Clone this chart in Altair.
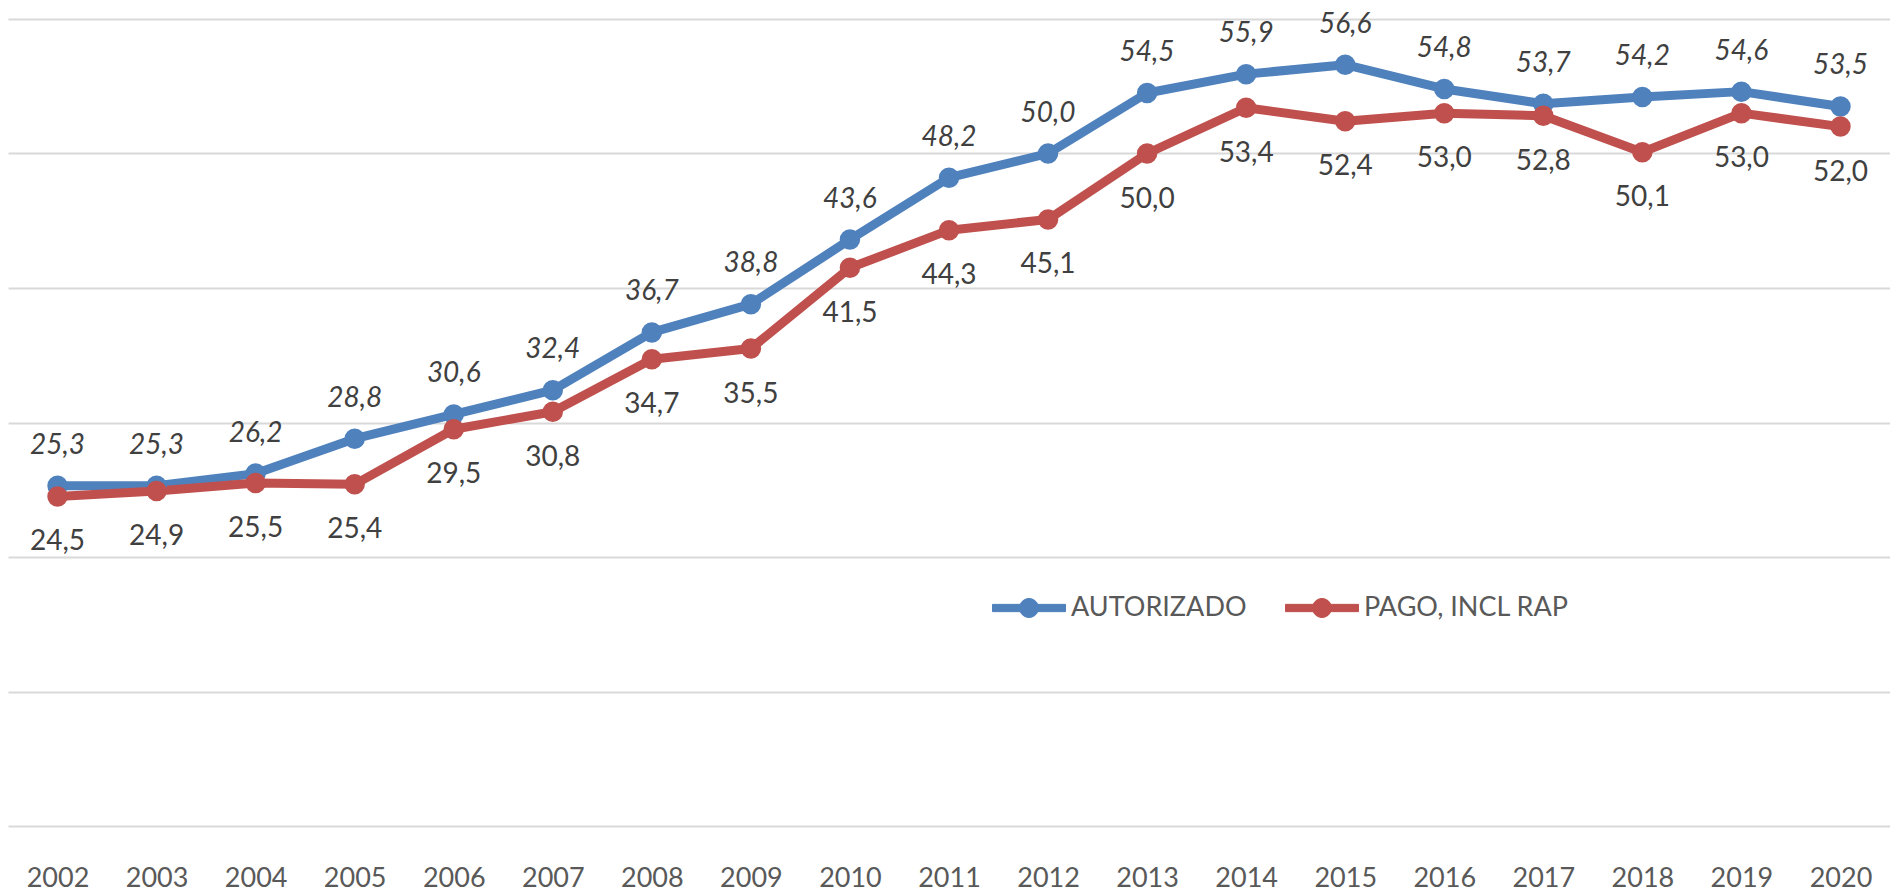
import math
import altair as alt
import pandas as pd

years = [str(y) for y in range(2002, 2021)]
autorizado = [25.3, 25.3, 26.2, 28.8, 30.6, 32.4, 36.7, 38.8, 43.6, 48.2,
              50.0, 54.5, 55.9, 56.6, 54.8, 53.7, 54.2, 54.6, 53.5]
pago = [24.5, 24.9, 25.5, 25.4, 29.5, 30.8, 34.7, 35.5, 41.5, 44.3,
        45.1, 50.0, 53.4, 52.4, 53.0, 52.8, 50.1, 53.0, 52.0]
series_names = ["AUTORIZADO", "PAGO, INCL RAP"]
colors = ["#4F81BD", "#C0504D"]
y_ticks = [0, 10, 20, 30, 40, 50, 60]

rows = []
for name, vals in zip(series_names, [autorizado, pago]):
    for y, v in zip(years, vals):
        rows.append({"ano": y, "serie": name, "valor": v})
df = pd.DataFrame(rows)

FONT = "Lato"

# legend symbol: a thick line segment with a dot in the middle (unit box -1..1)
_r = 0.26
_circle = " ".join(
    ("M" if i == 0 else "L") + f"{_r*math.cos(2*math.pi*i/24):.4f},{_r*math.sin(2*math.pi*i/24):.4f}"
    for i in range(24)
) + " Z"
legend_path = "M-1,-0.1 L1,-0.1 L1,0.1 L-1,0.1 Z " + _circle

x = alt.X("ano:N", title=None, sort=years,
          axis=alt.Axis(labelAngle=0, labelFontSize=27, labelColor="#595959",
                        labelFont=FONT, ticks=False, domain=False, grid=False,
                        labelPadding=39))
y = alt.Y("valor:Q", title=None,
          scale=alt.Scale(domain=[0, 60], nice=False, zero=True),
          axis=alt.Axis(values=y_ticks, labels=False, ticks=False, domain=False,
                        grid=True, gridColor="#d9d9d9", gridWidth=2))

base = alt.Chart(df).transform_calculate(
    label="replace(format(datum.valor, '.1f'), '.', ',')",
)

lines = base.mark_line(strokeWidth=9, strokeCap="round", strokeJoin="round").encode(
    x=x, y=y,
    color=alt.Color("serie:N", scale=alt.Scale(domain=series_names, range=colors),
                    legend=alt.Legend(title=None, orient="none", direction="horizontal",
                                      legendX=984, legendY=552,
                                      symbolType=legend_path,
                                      symbolSize=5329, symbolStrokeWidth=1,
                                      labelFontSize=27, labelLimit=0,
                                      labelFont=FONT, labelColor="#595959",
                                      labelOffset=5, columnPadding=36)),
)

points = base.mark_circle(size=420, opacity=1).encode(
    x=x, y=y,
    color=alt.Color("serie:N"),
)

labels_top = base.transform_filter(alt.datum.serie == series_names[0]).mark_text(
    font=FONT, fontSize=28, fontStyle="italic", color="#404040",
    baseline="middle", dy=-40
).encode(x=x, y=y, text="label:N")

labels_bottom = base.transform_filter(alt.datum.serie == series_names[1]).mark_text(
    font=FONT, fontSize=28, color="#404040", baseline="middle", dy=46
).encode(x=x, y=y, text="label:N")

chart = alt.layer(lines, points, labels_top, labels_bottom).properties(
    width=1882, height=807,
    padding={"left": 0, "top": 2, "right": 0, "bottom": 0},
).configure_view(stroke=None)

chart.save("out.html", embed_options={"renderer": "svg", "actions": False})
